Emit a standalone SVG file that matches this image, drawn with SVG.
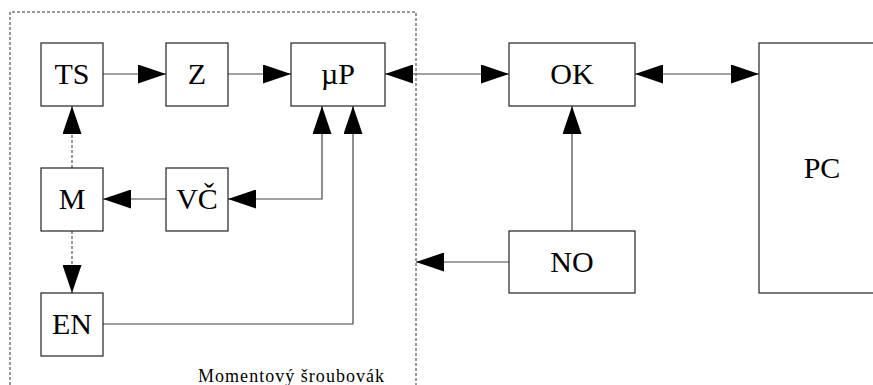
<svg xmlns="http://www.w3.org/2000/svg" width="873" height="385" viewBox="0 0 873 385">
  <style>
    .box { fill: #fff; stroke: #222; stroke-width: 1.2; }
    .lbl { font-family: "Liberation Serif", "Times New Roman", serif; font-size: 30px; fill: #000; text-anchor: middle; }
    .wire { fill: none; stroke: #444; stroke-width: 1.2; }
    .dash { fill: none; stroke: #555; stroke-width: 1.2; stroke-dasharray: 3 2; }
    .frame { fill: none; stroke: #333; stroke-width: 1; stroke-dasharray: 3 2; }
    .cap { font-family: "Liberation Serif", "Times New Roman", serif; font-size: 18px; fill: #000; }
  </style>
  <defs>
    <marker id="arrow" markerUnits="userSpaceOnUse" markerWidth="28" markerHeight="19" refX="28" refY="9.5" orient="auto-start-reverse">
      <path d="M0,0 L28,9.5 L0,19 Z" fill="#000"/>
    </marker>
  </defs>

  <rect width="873" height="385" fill="#fff"/>

  <!-- torque screwdriver enclosure (open at the bottom) -->
  <g id="enclosure">
    <path class="frame" d="M10,385 V12 H416 V385"/>
    <text class="cap" x="198" y="382" textLength="186" lengthAdjust="spacing">Momentový šroubovák</text>
  </g>

  <!-- connectors -->
  <g id="connectors">
    <path class="wire" d="M103,74 H166" marker-end="url(#arrow)"/>
    <path class="wire" d="M228,74 H291" marker-end="url(#arrow)"/>
    <path class="wire" d="M385,74 H509" marker-start="url(#arrow)" marker-end="url(#arrow)"/>
    <path class="wire" d="M635,74 H759" marker-start="url(#arrow)" marker-end="url(#arrow)"/>
    <path class="wire" d="M572,231 V106" marker-end="url(#arrow)"/>
    <path class="wire" d="M509,262 H416" marker-end="url(#arrow)"/>
    <path class="wire" d="M322,106 V199 H228" marker-start="url(#arrow)" marker-end="url(#arrow)"/>
    <path class="wire" d="M166,199 H103" marker-end="url(#arrow)"/>
    <path class="wire" d="M103,324 H353 V106" marker-end="url(#arrow)"/>
    <path class="dash" d="M72,168 V106" marker-end="url(#arrow)"/>
    <path class="dash" d="M72,231 V293" marker-end="url(#arrow)"/>
  </g>

  <g id="TS">
    <rect class="box" x="41" y="43" width="62" height="63"/>
    <text class="lbl" x="72" y="84">TS</text>
  </g>
  <g id="Z">
    <rect class="box" x="166" y="43" width="62" height="63"/>
    <text class="lbl" x="197" y="84">Z</text>
  </g>
  <g id="uP">
    <rect class="box" x="291" y="43" width="94" height="63"/>
    <text class="lbl" x="338" y="84">µP</text>
  </g>
  <g id="OK">
    <rect class="box" x="509" y="43" width="126" height="63"/>
    <text class="lbl" x="572" y="84">OK</text>
  </g>
  <g id="PC">
    <rect class="box" x="759" y="43" width="130" height="250"/>
    <text class="lbl" x="822" y="178">PC</text>
  </g>
  <g id="M">
    <rect class="box" x="41" y="168" width="62" height="63"/>
    <text class="lbl" x="72" y="209">M</text>
  </g>
  <g id="VC">
    <rect class="box" x="166" y="168" width="62" height="63"/>
    <text class="lbl" x="197" y="209">VČ</text>
  </g>
  <g id="NO">
    <rect class="box" x="509" y="231" width="126" height="62"/>
    <text class="lbl" x="572" y="272">NO</text>
  </g>
  <g id="EN">
    <rect class="box" x="41" y="293" width="62" height="63"/>
    <text class="lbl" x="72" y="334">EN</text>
  </g>
</svg>
